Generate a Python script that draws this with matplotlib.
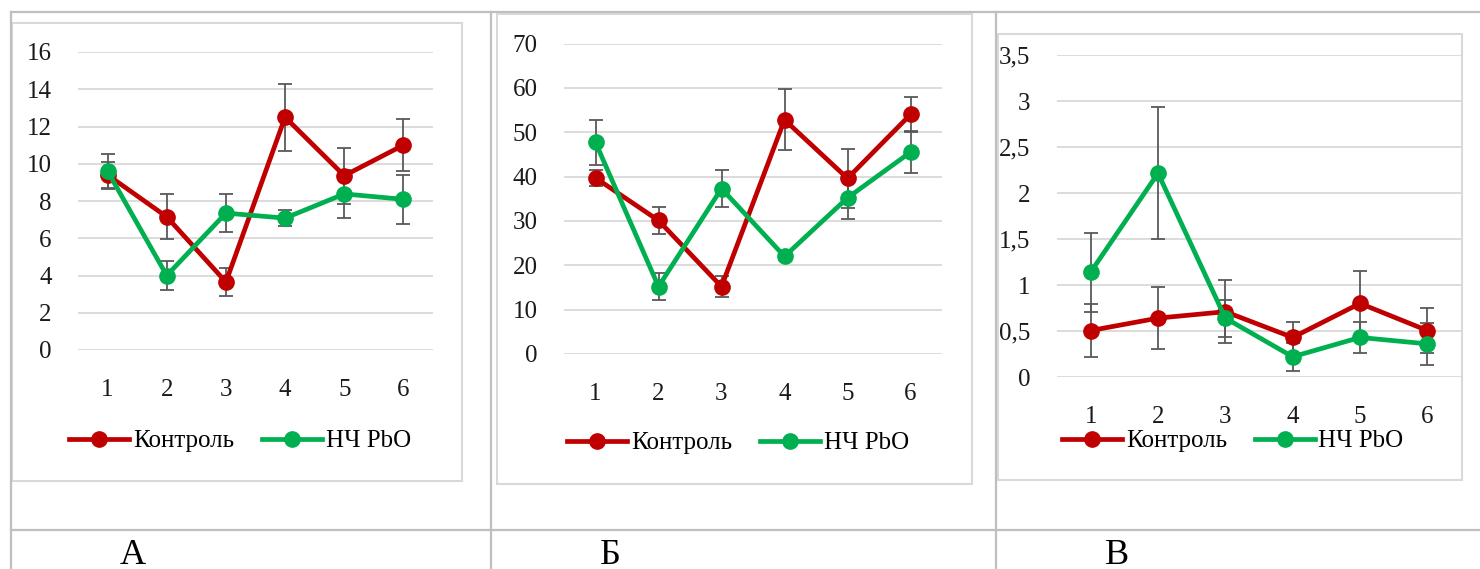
import matplotlib
matplotlib.use("Agg")
import matplotlib.pyplot as plt
from matplotlib.patches import Rectangle
from matplotlib.lines import Line2D

# Data
groups = [1, 2, 3, 4, 5, 6]
series_names = ["Контроль", "НЧ PbO"]

a_control = [9.4, 7.15, 3.65, 12.5, 9.36, 11.0]
a_control_err = [0.7, 1.2, 0.76, 1.8, 1.5, 1.4]
a_pbo = [9.6, 4.0, 7.35, 7.08, 8.38, 8.09]
a_pbo_err = [0.95, 0.77, 1.0, 0.44, 1.3, 1.3]

b_control = [39.7, 30.1, 15.2, 52.8, 39.6, 54.0]
b_control_err = [1.8, 3.0, 2.3, 6.9, 6.7, 3.9]
b_pbo = [47.7, 15.2, 37.3, 22.0, 35.2, 45.5]
b_pbo_err = [5.0, 3.0, 4.1, 0.8, 4.7, 4.8]

c_control = [0.505, 0.64, 0.71, 0.43, 0.80, 0.505]
c_control_err = [0.29, 0.34, 0.34, 0.17, 0.35, 0.245]
c_pbo = [1.14, 2.215, 0.64, 0.22, 0.43, 0.36]
c_pbo_err = [0.43, 0.72, 0.2, 0.15, 0.17, 0.23]

a_ticks = [0, 2, 4, 6, 8, 10, 12, 14, 16]
b_ticks = [0, 10, 20, 30, 40, 50, 60, 70]
c_ticks = [0, 0.5, 1, 1.5, 2, 2.5, 3, 3.5]
c_tick_labels = ["0", "0,5", "1", "1,5", "2", "2,5", "3", "3,5"]

panel_letters = ["А", "Б", "В"]

W, H = 1480, 569
RED = "#C00000"
GREEN = "#00B050"
FONT = "Liberation Serif"

plt.rcParams["font.family"] = [FONT, "DejaVu Serif"]

fig = plt.figure(figsize=(W / 100, H / 100), dpi=100)


def fbox(x0, y0, x1, y1):
    return [x0 / W, 1 - y1 / H, (x1 - x0) / W, (y1 - y0) / H]


# table lines
grid_col = "#bfbfbf"
for x in [11, 491, 996]:
    fig.add_artist(Line2D([x / W, x / W], [1 - 12 / H, 0], color=grid_col, lw=1.6))
for y in [12, 530]:
    fig.add_artist(Line2D([11 / W, 1], [1 - y / H, 1 - y / H], color=grid_col, lw=1.6))

panels = [
    dict(box=(12, 23, 462, 481), ax=(78, 52, 433, 350), leg=(240, 441),
         ctrl=a_control, ctrl_err=a_control_err, pbo=a_pbo, pbo_err=a_pbo_err,
         ticks=a_ticks, labels=[str(t) for t in a_ticks], letter_x=133),
    dict(box=(497, 14, 972, 484), ax=(564, 43.5, 942, 354), leg=(738, 443),
         ctrl=b_control, ctrl_err=b_control_err, pbo=b_pbo, pbo_err=b_pbo_err,
         ticks=b_ticks, labels=[str(t) for t in b_ticks], letter_x=610),
    dict(box=(998, 34, 1462, 480), ax=(1057, 55, 1461, 377), leg=(1233, 441),
         ctrl=c_control, ctrl_err=c_control_err, pbo=c_pbo, pbo_err=c_pbo_err,
         ticks=c_ticks, labels=c_tick_labels, letter_x=1117),
]

for p, letter in zip(panels, panel_letters):
    x0, y0, x1, y1 = p["box"]
    fig.add_artist(Rectangle((x0 / W, 1 - y1 / H), (x1 - x0) / W, (y1 - y0) / H,
                             transform=fig.transFigure, fill=False,
                             edgecolor="#d9d9d9", lw=1.5))

    ax = fig.add_axes(fbox(*p["ax"]))
    ax.set_facecolor("none")
    for name, vals, errs, col in [(series_names[0], p["ctrl"], p["ctrl_err"], RED),
                                  (series_names[1], p["pbo"], p["pbo_err"], GREEN)]:
        ax.errorbar(groups, vals, yerr=errs, fmt="none", ecolor="#595959",
                    elinewidth=1.3, capsize=5, capthick=1.3, zorder=2)
        ax.plot(groups, vals, color=col, lw=3.4, marker="o", ms=11,
                label=name, zorder=3)

    ax.set_xlim(0.5, 6.5)
    ax.set_ylim(p["ticks"][0], p["ticks"][-1])
    ax.set_yticks(p["ticks"])
    ax.set_yticklabels(p["labels"])
    ax.set_xticks(groups)
    ax.yaxis.grid(True, color="#d9d9d9", lw=1.3)
    ax.set_axisbelow(True)
    for s in ax.spines.values():
        s.set_visible(False)
    ax.tick_params(length=0, labelsize=18, colors="#1a1a1a")
    ax.tick_params(axis="y", pad=19)
    ax.tick_params(axis="x", pad=21)

    lx, ly = p["leg"]
    ax.legend(loc="center", bbox_to_anchor=(lx / W, 1 - ly / H),
              bbox_transform=fig.transFigure, ncol=2, frameon=False,
              fontsize=18, handlelength=2.4, handletextpad=0.15,
              columnspacing=1.1)

    fig.text(p["letter_x"] / W, 1 - 555 / H, letter, ha="center", va="center",
             fontsize=26, family=FONT)

fig.savefig("out.png", dpi=100)
